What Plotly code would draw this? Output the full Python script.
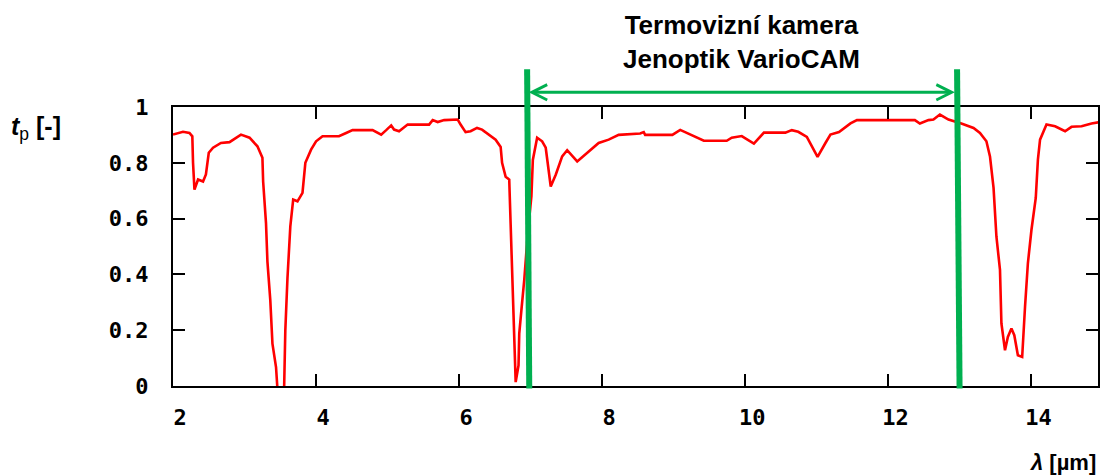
import plotly.graph_objects as go

# Spectral transmittance curve
wl = [2.00, 2.14, 2.23, 2.27, 2.28, 2.30, 2.35, 2.42, 2.46, 2.50, 2.56, 2.67, 2.79, 2.95, 3.07, 3.18,
      3.25, 3.26, 3.30, 3.32, 3.36, 3.39, 3.44, 3.47, 3.55, 3.57, 3.60, 3.64, 3.68, 3.74, 3.81, 3.85,
      3.93, 4.00, 4.09, 4.32, 4.42, 4.51, 4.79, 4.91, 4.98, 5.05, 5.09, 5.16, 5.28, 5.58, 5.63, 5.70,
      5.79, 5.98, 6.02, 6.09, 6.16, 6.25, 6.32, 6.42, 6.51, 6.58, 6.60, 6.65, 6.70, 6.72, 6.74, 6.77,
      6.79, 6.83, 6.84, 6.87, 6.91, 6.96, 7.01, 7.03, 7.09, 7.16, 7.21, 7.28, 7.35, 7.44, 7.51, 7.65,
      7.79, 7.95, 8.09, 8.23, 8.53, 8.58, 8.60, 8.98, 9.09, 9.26, 9.42, 9.74, 9.81, 9.95, 10.12, 10.26,
      10.56, 10.65, 10.74, 10.86, 10.93, 11.01, 11.12, 11.19, 11.31, 11.47, 11.56, 12.37, 12.44, 12.56,
      12.63, 12.72, 12.84, 13.02, 13.19, 13.28, 13.37, 13.42, 13.47, 13.51, 13.56, 13.58, 13.63, 13.67,
      13.72, 13.76, 13.81, 13.87, 13.91, 13.95, 14.00, 14.06, 14.09, 14.12, 14.21, 14.33, 14.47, 14.56,
      14.70, 14.84, 14.96]
tp = [0.901, 0.911, 0.907, 0.895, 0.800, 0.704, 0.740, 0.733, 0.758, 0.836, 0.854, 0.871, 0.874, 0.901, 0.890, 0.859,
      0.818, 0.733, 0.584, 0.446, 0.308, 0.152, 0.068, -0.05, -0.05, 0.200, 0.386, 0.572, 0.668, 0.662, 0.692, 0.800,
      0.847, 0.877, 0.895, 0.895, 0.907, 0.917, 0.917, 0.901, 0.917, 0.934, 0.919, 0.913, 0.937, 0.937, 0.953, 0.946,
      0.953, 0.955, 0.937, 0.910, 0.913, 0.925, 0.919, 0.901, 0.883, 0.857, 0.800, 0.750, 0.740, 0.578, 0.410, 0.152,
      0.014, 0.074, 0.188, 0.272, 0.380, 0.550, 0.680, 0.810, 0.890, 0.877, 0.854, 0.715, 0.757, 0.823, 0.845, 0.805,
      0.836, 0.871, 0.883, 0.900, 0.905, 0.910, 0.900, 0.900, 0.918, 0.898, 0.879, 0.879, 0.890, 0.896, 0.869, 0.908,
      0.908, 0.917, 0.911, 0.893, 0.859, 0.821, 0.871, 0.901, 0.910, 0.941, 0.953, 0.953, 0.941, 0.953,
      0.955, 0.973, 0.955, 0.941, 0.925, 0.907, 0.877, 0.823, 0.710, 0.536, 0.416, 0.224, 0.128, 0.176,
      0.206, 0.182, 0.110, 0.104, 0.284, 0.440, 0.560, 0.674, 0.811, 0.883, 0.937, 0.931, 0.913, 0.929,
      0.931, 0.941, 0.946]

x_ticks = [2, 4, 6, 8, 10, 12, 14]
y_ticks = [0, 0.2, 0.4, 0.6, 0.8, 1]
y_tick_text = ["0", "0.2", "0.4", "0.6", "0.8", "1"]

# Camera spectral band markers (top x, bottom x of each green bar)
band_left = [6.95, 6.98]
band_right = [12.96, 12.995]
arrow_x = [6.95, 12.93]

GREEN = "#00B050"

fig = go.Figure()
fig.add_trace(go.Scatter(x=wl, y=tp, mode="lines",
                         line=dict(color="#ff0000", width=2.6), showlegend=False,
                         hoverinfo="skip"))

for xs in (band_left, band_right):
    fig.add_shape(type="line", xref="x", yref="paper",
                  x0=xs[0], y0=1.135, x1=xs[1], y1=-0.009,
                  line=dict(color=GREEN, width=6))

fig.add_annotation(x=arrow_x[1], y=1.0525, xref="x", yref="paper",
                   ax=arrow_x[0], ay=0, axref="x", ayref="pixel",
                   text="", showarrow=True, arrowside="end+start",
                   arrowhead=5, startarrowhead=5, arrowsize=1, startarrowsize=1,
                   arrowwidth=3, arrowcolor=GREEN)

fig.add_annotation(x=0.615, y=1.232, xref="paper", yref="paper",
                   text="<b>Termovizní kamera<br>Jenoptik VarioCAM</b>",
                   showarrow=False, xanchor="center", yanchor="middle",
                   font=dict(family="Liberation Sans, Arial", size=26, color="#000"))

fig.add_annotation(x=-0.177, y=0.925, xref="paper", yref="paper",
                   text="<b><i>t</i></b><sub>p</sub><b> [-]</b>",
                   showarrow=False, xanchor="left", yanchor="middle",
                   font=dict(family="Liberation Sans, Arial", size=25, color="#000"))

fig.add_annotation(x=1.0, y=-0.275, xref="paper", yref="paper",
                   text="<b><i>λ</i> [µm]</b>",
                   showarrow=False, xanchor="right", yanchor="middle",
                   font=dict(family="Liberation Sans, Arial", size=22, color="#000"))

tickfont = dict(family="DejaVu Sans Mono", size=22, color="#000", weight="bold")
fig.update_xaxes(range=[2, 14.93], tickmode="array", tickvals=x_ticks,
                 ticks="inside", ticklen=12, tickwidth=2, tickcolor="#000",
                 showline=True, linewidth=2, linecolor="#000", mirror="allticks",
                 showgrid=False, zeroline=False, tickfont=tickfont,
                 ticklabelstandoff=11, ticklabelshift=7)
fig.update_yaxes(range=[0, 1], tickmode="array", tickvals=y_ticks, ticktext=y_tick_text,
                 ticks="inside", ticklen=12, tickwidth=2, tickcolor="#000",
                 showline=True, linewidth=2, linecolor="#000", mirror="allticks",
                 showgrid=False, zeroline=False, tickfont=tickfont,
                 ticklabelstandoff=18)
fig.update_layout(width=1103, height=476, margin=dict(l=173, r=3, t=107, b=90),
                  plot_bgcolor="white", paper_bgcolor="white")

fig.write_html("out.html", config={"displayModeBar": False},
               post_script="document.body.style.margin='0';")
